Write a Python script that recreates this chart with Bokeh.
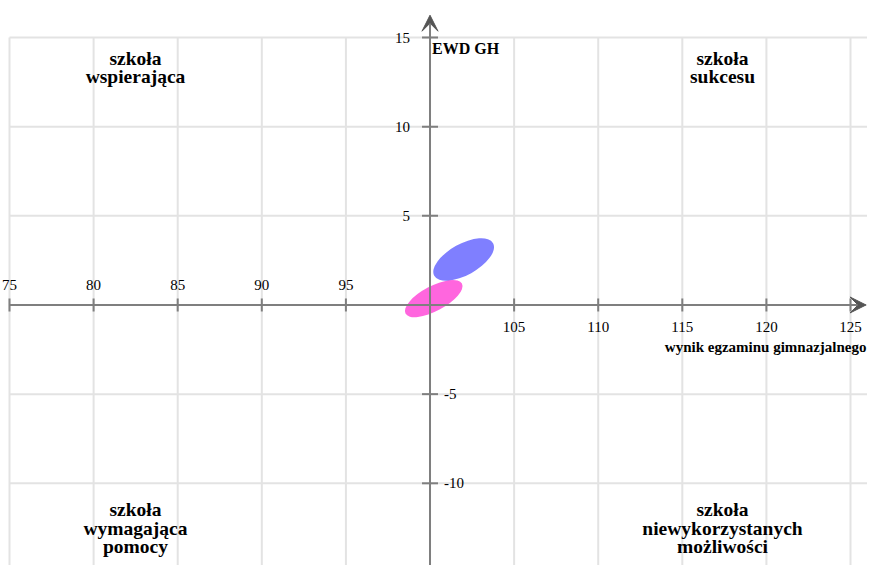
import math
from bokeh.plotting import figure
from bokeh.models import Range1d, Arrow, VeeHead, ColumnDataSource
from bokeh.core.properties import value
from bokeh.embed import file_html
from bokeh.resources import INLINE

# --- data ---
x_ticks = [75, 80, 85, 90, 95, 100, 105, 110, 115, 120, 125]
y_ticks = [-15, -10, -5, 0, 5, 10, 15]
x_left_labels = [75, 80, 85, 90, 95]
x_right_labels = [105, 110, 115, 120, 125]
y_pos_labels = [5, 10, 15]
y_neg_labels = [-5, -10, -15]

series_names = ["blue", "pink"]
exam_score = [102.0, 100.22]       # x centre of ellipse
ewd_value = [2.55, 0.36]           # y centre of ellipse
ellipse_w = [4.0, 3.8]             # major axis, x units
ellipse_h = [1.75, 1.4]            # minor axis, y units
ellipse_angle_deg = [29, 28]
ellipse_colors = ["#0000ff", "#ff00c8"]
ellipse_alpha = [0.5, 0.6]

quadrant_top = ["szkoła\nwspierająca", "szkoła\nsukcesu"]
quadrant_bottom = ["szkoła\nwymagająca\npomocy", "szkoła\nniewykorzystanych\nmożliwości"]
x_title = "wynik egzaminu gimnazjalnego"
y_title = "EWD GH"

X0, X1 = 74.465, 126.01
Y0, Y1 = -14.61, 17.075

p = figure(width=867, height=565, x_range=Range1d(X0, X1), y_range=Range1d(Y0, Y1),
           x_axis_type=None, y_axis_type=None, toolbar_location=None,
           output_backend="svg", min_border=0, outline_line_color=None,
           background_fill_color="white", border_fill_color="white")
p.xgrid.visible = False
p.ygrid.visible = False

grid_col = "#e3e3e3"
axis_col = "#7f7f7f"
txt_col = "#000000"
serif = value("Liberation Serif")

# grid lines
p.segment(x0=x_ticks, y0=[-15] * len(x_ticks), x1=x_ticks, y1=[15] * len(x_ticks),
          line_color=grid_col, line_width=2)
p.segment(x0=[75] * len(y_ticks), y0=y_ticks, x1=[X1] * len(y_ticks), y1=y_ticks,
          line_color=grid_col, line_width=2)

# axes with arrows
p.add_layout(Arrow(x_start=75, y_start=0, x_end=125.92, y_end=0, line_color=axis_col, line_width=2,
                   end=VeeHead(size=16, fill_color="#555555", line_color="#555555", line_width=1)))
p.add_layout(Arrow(x_start=100, y_start=Y0, x_end=100, y_end=16.25, line_color=axis_col, line_width=2,
                   end=VeeHead(size=16, fill_color="#555555", line_color="#555555", line_width=1)))

# tick marks
xt = [t for t in x_ticks if t != 100]
p.scatter(x=xt, y=[0] * len(xt), marker="dash", angle=math.pi / 2, size=13,
          line_color=axis_col, line_width=2)
yt = [t for t in y_ticks if t != 0]
p.scatter(x=[100] * len(yt), y=yt, marker="dash", size=16, line_color=axis_col, line_width=2)

# tick labels
p.text(x=x_left_labels, y=[0] * 5, text=[str(v) for v in x_left_labels], text_font=serif,
       text_font_size="15px", text_align="center", text_baseline="middle", y_offset=-20, text_color=txt_col)
p.text(x=x_right_labels, y=[0] * 5, text=[str(v) for v in x_right_labels], text_font=serif,
       text_font_size="15px", text_align="center", text_baseline="middle", y_offset=22, text_color=txt_col)
p.text(x=[100] * 3, y=y_pos_labels, text=[str(v) for v in y_pos_labels], text_font=serif,
       text_font_size="15px", text_align="right", text_baseline="middle", x_offset=-20, text_color=txt_col)
p.text(x=[100] * 3, y=y_neg_labels, text=[str(v) for v in y_neg_labels], text_font=serif,
       text_font_size="15px", text_align="left", text_baseline="middle", x_offset=14, text_color=txt_col)

# axis titles
p.text(x=[X1], y=[0], text=[x_title], text_font=serif, text_font_style="bold",
       text_font_size="15px", text_align="right", text_baseline="middle", x_offset=-1, y_offset=42,
       text_color=txt_col)
p.text(x=[100], y=[15], text=[y_title], text_font=serif, text_font_style="bold",
       text_font_size="16px", text_align="left", text_baseline="middle", x_offset=2, y_offset=11,
       text_color=txt_col)

# quadrant labels
p.text(x=[82.49, 117.39], y=[15, 15], text=quadrant_top, text_font=serif, text_font_style="bold",
       text_font_size="19.5px", text_align="center", text_baseline="top", y_offset=10,
       text_line_height=0.9, text_color=txt_col)
p.text(x=[82.49, 117.39], y=[-15, -15], text=quadrant_bottom, text_font=serif, text_font_style="bold",
       text_font_size="19.5px", text_align="center", text_baseline="bottom", y_offset=-15,
       text_line_height=0.9, text_color=txt_col)

# ellipses
src = ColumnDataSource(dict(x=exam_score, y=ewd_value, w=ellipse_w, h=ellipse_h,
                            a=[math.radians(a) for a in ellipse_angle_deg], c=ellipse_colors,
                            al=ellipse_alpha))
p.ellipse(x="x", y="y", width="w", height="h", angle="a", source=src,
          fill_color="c", fill_alpha="al", line_color=None)

open("out.html", "w").write(file_html(p, INLINE))
